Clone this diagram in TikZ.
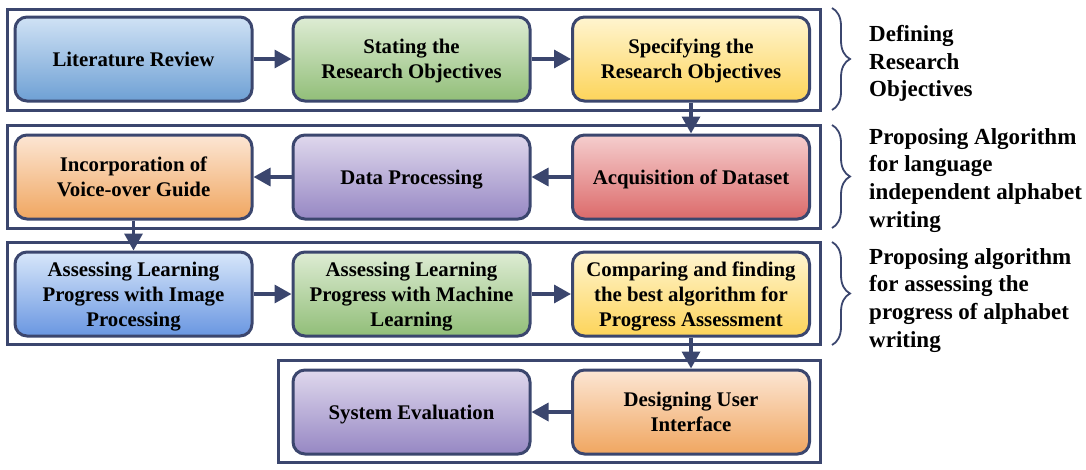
\documentclass[tikz,border=0pt]{standalone}
\usepackage{fontspec}
\setmainfont{Liberation Serif}
\usetikzlibrary{arrows.meta,decorations.pathreplacing}
\definecolor{navy}{RGB}{59,70,110}
\begin{document}
\begin{tikzpicture}[x=1pt,y=-1pt,
  stepbox/.style={draw=navy,line width=3pt,rounded corners=12pt,
    minimum width=237pt,minimum height=84pt,align=center,inner sep=2pt,
    text depth=0pt,font=\fontsize{20.8}{25}\selectfont\bfseries},
  frame/.style={draw=navy,line width=3pt},
  flow/.style={draw=navy,line width=3.4pt,-{Triangle[length=17pt,width=18pt]}},
  curly/.style={draw=navy,line width=1.8pt,decorate,
    decoration={brace,amplitude=18pt,aspect=0.5}},
  phase/.style={anchor=north west,inner sep=0pt,align=left,
    font=\fontsize{23}{27.7}\selectfont\bfseries}]
  \useasboundingbox (0,0) rectangle (1086,469);

  % group frames
  \draw[frame] (7,9) rectangle (820,110);
  \draw[frame] (7,125) rectangle (820,228);
  \draw[frame] (7,242) rectangle (820,344);
  \draw[frame] (278,360) rectangle (820,462);

  % row 1
  \node[stepbox,top color={rgb,255:red,208;green,226;blue,245},bottom color={rgb,255:red,110;green,160;blue,212}]
    (litrev) at (133.5,59) {Literature Review};
  \node[stepbox,top color={rgb,255:red,222;green,236;blue,212},bottom color={rgb,255:red,145;green,190;blue,120}]
    (stating) at (411.5,59) {Stating the\\Research Objectives};
  \node[stepbox,top color={rgb,255:red,255;green,245;blue,208},bottom color={rgb,255:red,253;green,212;blue,90}]
    (specify) at (691,59) {Specifying the\\Research Objectives};

  % row 2
  \node[stepbox,top color={rgb,255:red,245;green,206;blue,206},bottom color={rgb,255:red,220;green,106;blue,106}]
    (acquire) at (691,177) {Acquisition of Dataset};
  \node[stepbox,top color={rgb,255:red,223;green,216;blue,237},bottom color={rgb,255:red,150;green,135;blue,195}]
    (dataproc) at (411.5,177) {Data Processing};
  \node[stepbox,top color={rgb,255:red,252;green,230;blue,212},bottom color={rgb,255:red,240;green,166;blue,96}]
    (voice) at (133.5,177) {Incorporation of\\Voice-over Guide};

  % row 3
  \node[stepbox,top color={rgb,255:red,216;green,231;blue,250},bottom color={rgb,255:red,105;green,150;blue,225}]
    (imgproc) at (133.5,294) {Assessing Learning\\Progress with Image\\Processing};
  \node[stepbox,top color={rgb,255:red,222;green,236;blue,212},bottom color={rgb,255:red,145;green,190;blue,120}]
    (machlearn) at (411.5,294) {Assessing Learning\\Progress with Machine\\Learning};
  \node[stepbox,top color={rgb,255:red,255;green,245;blue,208},bottom color={rgb,255:red,253;green,212;blue,90}]
    (compare) at (691,294) {Comparing and finding\\the best algorithm for\\Progress Assessment};

  % row 4
  \node[stepbox,top color={rgb,255:red,252;green,230;blue,212},bottom color={rgb,255:red,240;green,166;blue,96}]
    (userif) at (691,412) {Designing User\\Interface};
  \node[stepbox,top color={rgb,255:red,223;green,216;blue,237},bottom color={rgb,255:red,150;green,135;blue,195}]
    (evaluate) at (411.5,412) {System Evaluation};

  % connectors
  \draw[flow] (litrev) -- (stating);
  \draw[flow] (stating) -- (specify);
  \draw[flow] (specify) -- (acquire);
  \draw[flow] (acquire) -- (dataproc);
  \draw[flow] (dataproc) -- (voice);
  \draw[flow] (voice) -- (imgproc);
  \draw[flow] (imgproc) -- (machlearn);
  \draw[flow] (machlearn) -- (compare);
  \draw[flow] (compare) -- (userif);
  \draw[flow] (userif) -- (evaluate);

  % braces and phase labels
  \draw[curly] (832,8) -- (832,110);
  \draw[curly] (832,125) -- (832,228);
  \draw[curly] (832,242) -- (832,345);
  \node[phase] (phaseone) at (869,25) {Defining\\Research\\Objectives};
  \node[phase] (phasetwo) at (869,128) {Proposing Algorithm\\for language\\independent alphabet\\writing};
  \node[phase] (phasethree) at (869,248) {Proposing algorithm\\for assessing the\\progress of alphabet\\writing};
\end{tikzpicture}
\end{document}
